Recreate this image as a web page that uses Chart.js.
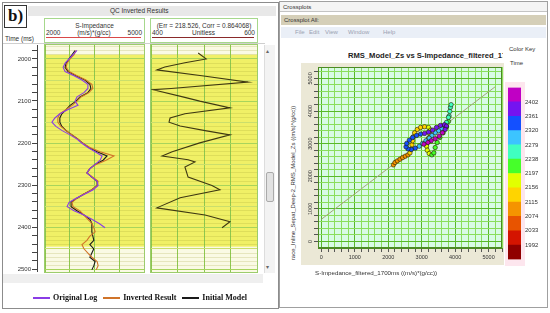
<!DOCTYPE html>
<html lang="en">
<head>
  <meta charset="UTF-8">
  <title>QC Inverted Results / Crossplot</title>
  <script src="https://cdn.jsdelivr.net/npm/chart.js"></script>
  <style>
    html, body { margin: 0; padding: 0; background: #fff; }
    body { position: relative; width: 550px; height: 313px; overflow: hidden;
           font-family: 'Liberation Sans', Arial, sans-serif; color: #333; }
    .abs { position: absolute; }
    canvas { position: absolute; }
    .frame { border: 1px solid #8c8c8c; box-sizing: border-box; }
    .bbox { left: 4px; top: 5px; width: 23px; height: 23px; border: 1px solid #333; box-sizing: border-box;
            font: bold 17px 'Liberation Serif', serif; line-height: 20px; text-align: center; color: #111; }
    .bar { font-size: 6.5px; line-height: 10px; white-space: nowrap; }
    .hdr { border: 1px solid #a6d88c; height: 23px; font-size: 6.5px; white-space: nowrap; }
    .hdr .t { position: absolute; left: 0; right: 0; top: 3px; text-align: center; }
    .hdr .r { position: absolute; left: 1px; right: 2px; top: 10px; display: flex; justify-content: space-between; }
    .hdr .s { position: absolute; left: 1px; right: 3px; top: 18px; height: 1px; }
    .trk { border: 1px solid #9ccc6c; }
    .trk canvas { left: 0; top: 0; }
    #legend { left: 33px; top: 293px; display: flex; gap: 6px; font: bold 8px 'Liberation Serif', serif;
              color: #111; line-height: 10px; white-space: nowrap; }
    #legend span { display: flex; align-items: center; }
    #legend i { display: inline-block; width: 17px; height: 1.5px; margin-right: 3px; }
    .small { font-size: 6px; line-height: 8px; white-space: nowrap; }
  </style>
</head>
<body>
  <!-- left panel: QC Inverted Results -->
  <div class="abs frame" style="left:2px;top:2px;width:277px;height:307px"></div>
  <div class="abs bbox">b)</div>
  <div class="abs bar" style="left:28px;top:6px;width:248px;height:10px;background:#e8e8e8;padding-left:82px;box-sizing:border-box">QC Inverted Results</div>
  <div class="abs" style="left:5px;top:35px;font-size:6.5px;line-height:8px">Time (ms)</div>
  <div class="abs" style="left:3px;top:43px;width:262px;height:1px;background:#cfcfcf"></div>

  <div class="abs hdr" style="left:44px;top:18px;width:99px">
    <div class="t">S-Impedance</div>
    <div class="r"><span>2000</span><span>(m/s)*(g/cc)</span><span>5000</span></div>
    <div class="s" style="background:#d84848"></div>
  </div>
  <div class="abs hdr" style="left:150px;top:18px;width:106px">
    <div class="t">(Err = 218.526, Corr = 0.864068)</div>
    <div class="r"><span>400</span><span>Unitless</span><span>600</span></div>
    <div class="s" style="background:#8a2a2a"></div>
  </div>

  <canvas id="timeAxis" width="40" height="236" style="left:0;top:40px"></canvas>
  <div class="abs trk" style="left:44px;top:44px;width:99px;height:227px">
    <canvas id="track1" width="99" height="227"></canvas>
  </div>
  <div class="abs trk" style="left:150px;top:44px;width:106px;height:227px">
    <canvas id="track2" width="106" height="227"></canvas>
  </div>

  <div class="abs" style="left:3px;top:274px;width:260px;height:9px;background:#efefef"></div>
  <div class="abs" style="left:264px;top:45px;width:10px;height:228px;background:#f3f3f3;border-left:1px solid #ddd"></div>
  <div class="abs" style="left:266px;top:47px;font-size:6px;color:#666">&#9652;</div>
  <div class="abs" style="left:266px;top:263px;font-size:6px;color:#666">&#9662;</div>
  <div class="abs" style="left:266px;top:172px;width:6px;height:28px;background:#e2e2e2;border:1px solid #aaa;border-radius:2px"></div>

  <div id="legend" class="abs"></div>

  <!-- right panel: Crossplot -->
  <div class="abs frame" style="left:279px;top:1px;width:269px;height:307px;border-color:#a0a0a0"></div>
  <div class="abs small" style="left:280px;top:2px;width:267px;height:10px;background:#f4f4f4;border-bottom:1px solid #c4c4c4;padding-left:3px;box-sizing:border-box;line-height:10px">Crossplots</div>
  <div class="abs small" style="left:281px;top:15px;width:265px;height:10px;background:#d5cfb8;padding-left:3px;box-sizing:border-box;line-height:10px">Crossplot All:</div>
  <div class="abs small" style="left:281px;top:27px;width:265px;height:11px;background:#eaeff7;color:#9aa2b2;line-height:11px">
    <span style="position:absolute;left:14px">File</span><span style="position:absolute;left:28px">Edit</span><span style="position:absolute;left:44px">View</span><span style="position:absolute;left:67px">Window</span><span style="position:absolute;left:102px">Help</span>
  </div>
  <div class="abs" style="left:348px;top:51px;width:155px;overflow:hidden;white-space:nowrap;font:bold 7.6px 'Liberation Sans', Arial, sans-serif;color:#222">RMS_Model_Zs vs S-Impedance_filtered_1700ms</div>
  <div class="abs small" style="left:509px;top:45px">Color Key</div>
  <div class="abs small" style="left:510px;top:59px">Time</div>

  <div class="abs" style="left:301px;top:63px;width:203px;height:202px;background:#ebe8d6"></div>
  <div class="abs small" style="left:203px;top:179px;width:180px;text-align:center;transform:rotate(-90deg)">race_Inline_Sepat_Deep-2_RMS_Model_Zs ((m/s)*(g/cc))</div>
  <div class="abs" style="left:315px;top:269px;font-size:6.2px;white-space:nowrap">S-Impedance_filtered_1700ms ((m/s)*(g/cc))</div>
  <div class="abs" style="left:505px;top:82px;width:20px;height:184px;background:#fde6ee"></div>

  <canvas id="cross" width="212" height="205" style="left:296px;top:62px"></canvas>
  <canvas id="key" width="45" height="187" style="left:505px;top:80px"></canvas>

  <script>
    // ---- well log track (time in ms, impedance in (m/s)*(g/cc)) ----
    const times = [1980, 1990, 2000, 2010, 2020, 2030, 2040, 2050, 2060, 2070, 2080, 2090, 2100, 2110,
                   2120, 2130, 2140, 2150, 2160, 2170, 2180, 2190, 2200, 2210, 2220, 2230, 2240, 2250,
                   2260, 2270, 2280, 2290, 2300, 2310, 2320, 2330, 2340, 2350, 2360, 2370, 2380, 2390,
                   2400, 2410, 2420, 2430, 2440, 2450, 2460, 2470, 2480, 2490, 2500];
    const originalLog = [2970, 2850, 2730, 2610, 2550, 2610, 2880, 3120, 3300, 3300, 3180, 2970, 2910, 3000,
                         2700, 2450, 2300, 2210, 2330, 2520, 2760, 2970, 3120, 3300, 3520, 3730, 3670, 3520,
                         3360, 3270, 3420, 3580, 3610, 3460, 3210, 2940, 2730, 2670, 2880, 3180, 3420, 3640,
                         3820, null, null, null, null, null, null, null, null, null, null];
    const invertedResult = [2940, 2880, 2760, 2670, 2640, 2730, 2970, 3240, 3420, 3450, 3330, 3090, 2970, 2820,
                            2640, 2450, 2390, 2390, 2480, 2640, 2820, 3000, 3150, 3360, 3670, 4090, 3850, 3550,
                            3360, 3270, 3450, 3610, 3580, 3420, 3180, 2970, 2820, 2850, 3060, 3180, 3300, 3420,
                            3480, 3520, 3360, 3270, 3120, 3180, 3300, 3420, 3580, 3610, 3550];
    const initialModel = [2910, 2820, 2730, 2640, 2610, 2700, 2940, 3210, 3360, 3390, 3300, 3060, 2940, 2760,
                          2640, 2510, 2450, 2450, 2510, 2640, 2820, 3000, 3150, 3330, 3580, 3880, 3760, 3520,
                          3360, 3270, 3420, 3580, 3580, 3420, 3180, 2970, 2790, 2790, 2970, 3180, 3360, 3420,
                          3420, 3420, 3450, 3480, 3360, 3480, 3420, 3360, 3520, 3480, 3420];
    const seriesNames = ['Original Log', 'Inverted Result', 'Initial Model'];
    const seriesColors = ['#8a3ce6', '#d0742a', '#1a1a1a'];

    const windowTimes = [1990, 2445];
    const timeLabels = [2000, 2100, 2200, 2300, 2400, 2500];

    // ---- second track (unitless) ----
    const errTimes = [1986, 2000, 2009, 2019, 2026, 2040, 2055, 2070, 2073, 2090, 2100, 2116, 2130, 2140,
                      2150, 2159, 2170, 2180, 2199, 2220, 2230, 2239, 2244, 2256, 2280, 2300, 2310, 2329,
                      2353, 2370, 2386, 2400];
    const errValues = [489, 504, 464, 426, 411, 496, 583, 438, 404, 460, 492, 549, 464, 436,
                       434, 455, 502, 549, 492, 440, 421, 470, 483, 464, 470, 515, 530, 455,
                       411, 502, 549, 534];

    // ---- crossplot ----
    const crossX = [2153, 2202, 2272, 2351, 2431, 2510, 2589, 2649, 2689, 2708, 2728, 2748, 2788, 2867,
                    2966, 3085, 3204, 3264, 3244, 3204, 3165, 3145, 3165, 3224, 3304, 3363, 3403, 3462,
                    3542, 3641, 3740, 3800, 3819, 3839, 3859, 3879, 3800, 3740, 3680, 3601, 3502, 3403,
                    3304, 3224, 3125, 3026, 2927, 2808, 2689, 2589, 2530, 2550, 2629, 2728, 2847, 2966,
                    3085, 3204, 3323, 3442, 3561, 3680, 3740, 3700, 3621, 3522, 3403, 3284, 3184, 3065];
    const crossY = [2348, 2420, 2471, 2522, 2574, 2615, 2656, 2717, 2830, 2964, 3087, 3210, 3333, 3435,
                    3497, 3518, 3497, 3415, 3292, 3169, 3046, 2922, 2799, 2697, 2656, 2717, 2881, 3035,
                    3189, 3333, 3518, 3682, 3846, 3989, 4113, 4195, 3805, 3651, 3559, 3456, 3394, 3333,
                    3251, 3169, 3087, 3005, 2922, 2861, 2820, 2840, 2902, 3005, 3107, 3189, 3251, 3292,
                    3312, 3353, 3415, 3497, 3559, 3579, 3538, 3435, 3333, 3230, 3148, 3087, 3035, 2984];
    const crossT = [2080, 2085, 2090, 2095, 2100, 2105, 2110, 2115, 2120, 2125, 2130, 2135, 2140, 2145,
                    2150, 2155, 2160, 2165, 2170, 2175, 2180, 2185, 2190, 2195, 2200, 2205, 2210, 2215,
                    2220, 2225, 2230, 2235, 2240, 2245, 2250, 2255, 2265, 2270, 2275, 2280, 2285, 2290,
                    2295, 2300, 2305, 2310, 2315, 2320, 2325, 2330, 2335, 2340, 2345, 2350, 2355, 2360,
                    2365, 2370, 2375, 2380, 2385, 2390, 2395, 2400, 2405, 2410, 2415, 2420, 2425, 2430];
    const fitX = [0, 5190];
    const fitY = [680, 4740];
    const xTickLabels = [0, 1000, 2000, 3000, 4000, 5000];
    const yTickLabels = [0, 1000, 2000, 3000, 4000, 5000];

    // ---- colour key (bottom to top) ----
    const keyTimes = [1992, 2033, 2074, 2115, 2156, 2197, 2238, 2279, 2320, 2361, 2402];
    const keyColors = ['#900000', '#d41400', '#e85400', '#f59400', '#ffd400', '#e2ff00',
                       '#46ff2a', '#40ffc0', '#3cc4ff', '#1450ff', '#7414f0', '#c000c4'];

    Chart.defaults.font.family = "'Liberation Sans', Arial, sans-serif";
    Chart.defaults.font.size = 6;
    Chart.defaults.color = '#333';
    Chart.defaults.animation = false;
    Chart.defaults.responsive = false;
    Chart.defaults.plugins.legend.display = false;
    Chart.defaults.plugins.tooltip.enabled = false;

    const timeMin = 1967, timeMax = 2505;

    function stepList(a, b, s) {
      const out = [];
      for (let v = a; v <= b + 1e-9; v += s) out.push(v);
      return out;
    }
    function timeColor(t) {
      let i = 0;
      while (i < keyTimes.length && t >= keyTimes[i]) i++;
      return keyColors[i];
    }
    function pairs(xs, ys) {
      return xs.map((x, i) => ({ x, y: ys[i] })).filter(p => p.x != null && p.y != null);
    }

    // yellow inversion window behind the tracks
    const trackBg = {
      id: 'trackBg',
      beforeDraw(chart) {
        const { ctx, chartArea: a, scales } = chart;
        ctx.save();
        ctx.fillStyle = '#fafae4';
        ctx.fillRect(a.left, a.top, a.width, a.height);
        const y0 = scales.y.getPixelForValue(windowTimes[0]);
        const y1 = scales.y.getPixelForValue(windowTimes[1]);
        ctx.fillStyle = '#f0f066';
        ctx.fillRect(a.left, y0, a.width, y1 - y0);
        ctx.restore();
      }
    };

    function makeTrack(id, xMin, xMax, xStep, datasets) {
      return new Chart(document.getElementById(id), {
        type: 'scatter',
        data: { datasets },
        options: {
          scales: {
            x: {
              type: 'linear', min: xMin, max: xMax,
              afterBuildTicks: s => { s.ticks = stepList(xMin, xMax, xStep).map(v => ({ value: v })); },
              ticks: { display: false },
              grid: { color: '#8cc850', drawTicks: false },
              border: { display: false },
              afterFit: s => { s.height = 0; }
            },
            y: {
              type: 'linear', reverse: true, min: timeMin, max: timeMax,
              afterBuildTicks: s => { s.ticks = stepList(1970, 2500, 10).map(v => ({ value: v })); },
              ticks: { display: false },
              grid: {
                drawTicks: false,
                color: c => c.tick.value % 100 === 0 ? '#a8d45c'
                          : (c.tick.value % 50 === 0 ? '#cade6c' : 'rgba(160,160,50,0.22)')
              },
              border: { display: false },
              afterFit: s => { s.width = 0; }
            }
          }
        },
        plugins: [trackBg]
      });
    }

    // time axis
    new Chart(document.getElementById('timeAxis'), {
      type: 'scatter',
      data: { datasets: [] },
      options: {
        layout: { padding: { top: 5, bottom: 4 } },
        scales: {
          x: { display: false },
          y: {
            type: 'linear', reverse: true, min: timeMin, max: timeMax,
            afterBuildTicks: s => { s.ticks = stepList(1980, 2500, 20).map(v => ({ value: v })); },
            ticks: { autoSkip: false, padding: 1, callback: v => timeLabels.includes(v) ? String(v) : '' },
            grid: { drawOnChartArea: false, tickLength: 5, tickColor: '#444' },
            border: { color: '#444' },
            afterFit: s => { s.width = 37; }
          }
        }
      }
    });

    const lineStyle = { showLine: true, pointRadius: 0, borderWidth: 1.1, fill: false };
    makeTrack('track1', 2000, 5000, 750, [
      Object.assign({ label: seriesNames[0], data: pairs(originalLog, times), borderColor: seriesColors[0] }, lineStyle),
      Object.assign({ label: seriesNames[1], data: pairs(invertedResult, times), borderColor: seriesColors[1] }, lineStyle),
      Object.assign({ label: seriesNames[2], data: pairs(initialModel, times), borderColor: seriesColors[2] }, lineStyle)
    ]);
    makeTrack('track2', 400, 600, 50, [
      Object.assign({ label: 'Unitless', data: pairs(errValues, errTimes), borderColor: '#3e3812' }, lineStyle)
    ]);

    // legend under the tracks
    const legend = document.getElementById('legend');
    seriesNames.forEach((n, i) => {
      legend.insertAdjacentHTML('beforeend',
        '<span><i style="background:' + seriesColors[i] + '"></i>' + n + '</span>');
    });

    // crossplot
    const crossGrid = c => (c.tick && c.tick.value % 1000 === 0) ? '#58b828' : '#8ade5c';
    const mintBg = {
      id: 'mintBg',
      beforeDraw(chart) {
        const { ctx, chartArea: a } = chart;
        ctx.save();
        ctx.fillStyle = '#d8fbe5';
        ctx.fillRect(a.left, a.top, a.width, a.height);
        ctx.restore();
      },
      afterDraw(chart) {
        const { ctx, chartArea: a } = chart;
        ctx.save();
        ctx.strokeStyle = '#4c8a24';
        ctx.lineWidth = 1;
        ctx.strokeRect(a.left + 0.5, a.top + 0.5, a.width - 1, a.height - 1);
        ctx.restore();
      }
    };
    const yLabelsRotated = {
      id: 'yLabelsRotated',
      afterDraw(chart) {
        const ctx = chart.ctx, ys = chart.scales.y;
        ctx.save();
        ctx.font = "5.5px 'Liberation Sans', Arial, sans-serif";
        ctx.fillStyle = '#333';
        ctx.textAlign = 'center';
        ctx.textBaseline = 'middle';
        yTickLabels.forEach(v => {
          ctx.save();
          ctx.translate(chart.chartArea.left - 8, ys.getPixelForValue(v));
          ctx.rotate(-Math.PI / 2);
          ctx.fillText(String(v), 0, 0);
          ctx.restore();
        });
        ctx.restore();
      }
    };

    new Chart(document.getElementById('cross'), {
      type: 'scatter',
      data: {
        datasets: [
          { data: pairs(fitX, fitY), showLine: true, borderColor: '#a3a47a', borderWidth: 1, pointRadius: 0, order: 2 },
          {
            data: pairs(crossX, crossY),
            pointRadius: 2.2,
            pointBackgroundColor: crossT.map(timeColor),
            pointBorderColor: 'rgba(30,25,0,0.85)',
            pointBorderWidth: 0.7,
            order: 1
          }
        ]
      },
      options: {
        layout: { padding: { top: 5, right: 6 } },
        scales: {
          x: {
            type: 'linear', min: -100, max: 5400,
            afterBuildTicks: s => { s.ticks = stepList(0, 5400, 200).map(v => ({ value: v })); },
            ticks: { autoSkip: false, maxRotation: 0, padding: 2, font: { size: 5.5 },
                     callback: v => xTickLabels.includes(v) ? String(v) : '' },
            grid: { color: crossGrid, tickColor: '#555', tickLength: 4 },
            border: { color: '#4c8a24' },
            afterFit: s => { s.height = 19; }
          },
          y: {
            type: 'linear', min: -200, max: 5350,
            afterBuildTicks: s => { s.ticks = stepList(0, 5200, 200).map(v => ({ value: v })); },
            ticks: { display: false },
            grid: { color: crossGrid, tickColor: '#555', tickLength: 4 },
            border: { color: '#4c8a24' },
            afterFit: s => { s.width = 22; }
          }
        }
      },
      plugins: [mintBg, yLabelsRotated]
    });

    // colour key
    new Chart(document.getElementById('key'), {
      type: 'bar',
      data: {
        labels: [''],
        datasets: keyColors.map(c => ({ data: [1], backgroundColor: c, borderWidth: 0,
                                        barPercentage: 1, categoryPercentage: 1 }))
      },
      options: {
        layout: { padding: { left: 3, top: 7, bottom: 7 } },
        scales: {
          x: { stacked: true, display: false },
          y: {
            stacked: true, position: 'right', min: 0, max: keyColors.length,
            afterBuildTicks: s => { s.ticks = keyTimes.map((t, i) => ({ value: i + 1 })); },
            ticks: { autoSkip: false, padding: 4, callback: v => String(keyTimes[v - 1]) },
            grid: { display: false, drawTicks: false },
            border: { display: false },
            afterFit: s => { s.width = 29; }
          }
        }
      }
    });
  </script>
</body>
</html>
